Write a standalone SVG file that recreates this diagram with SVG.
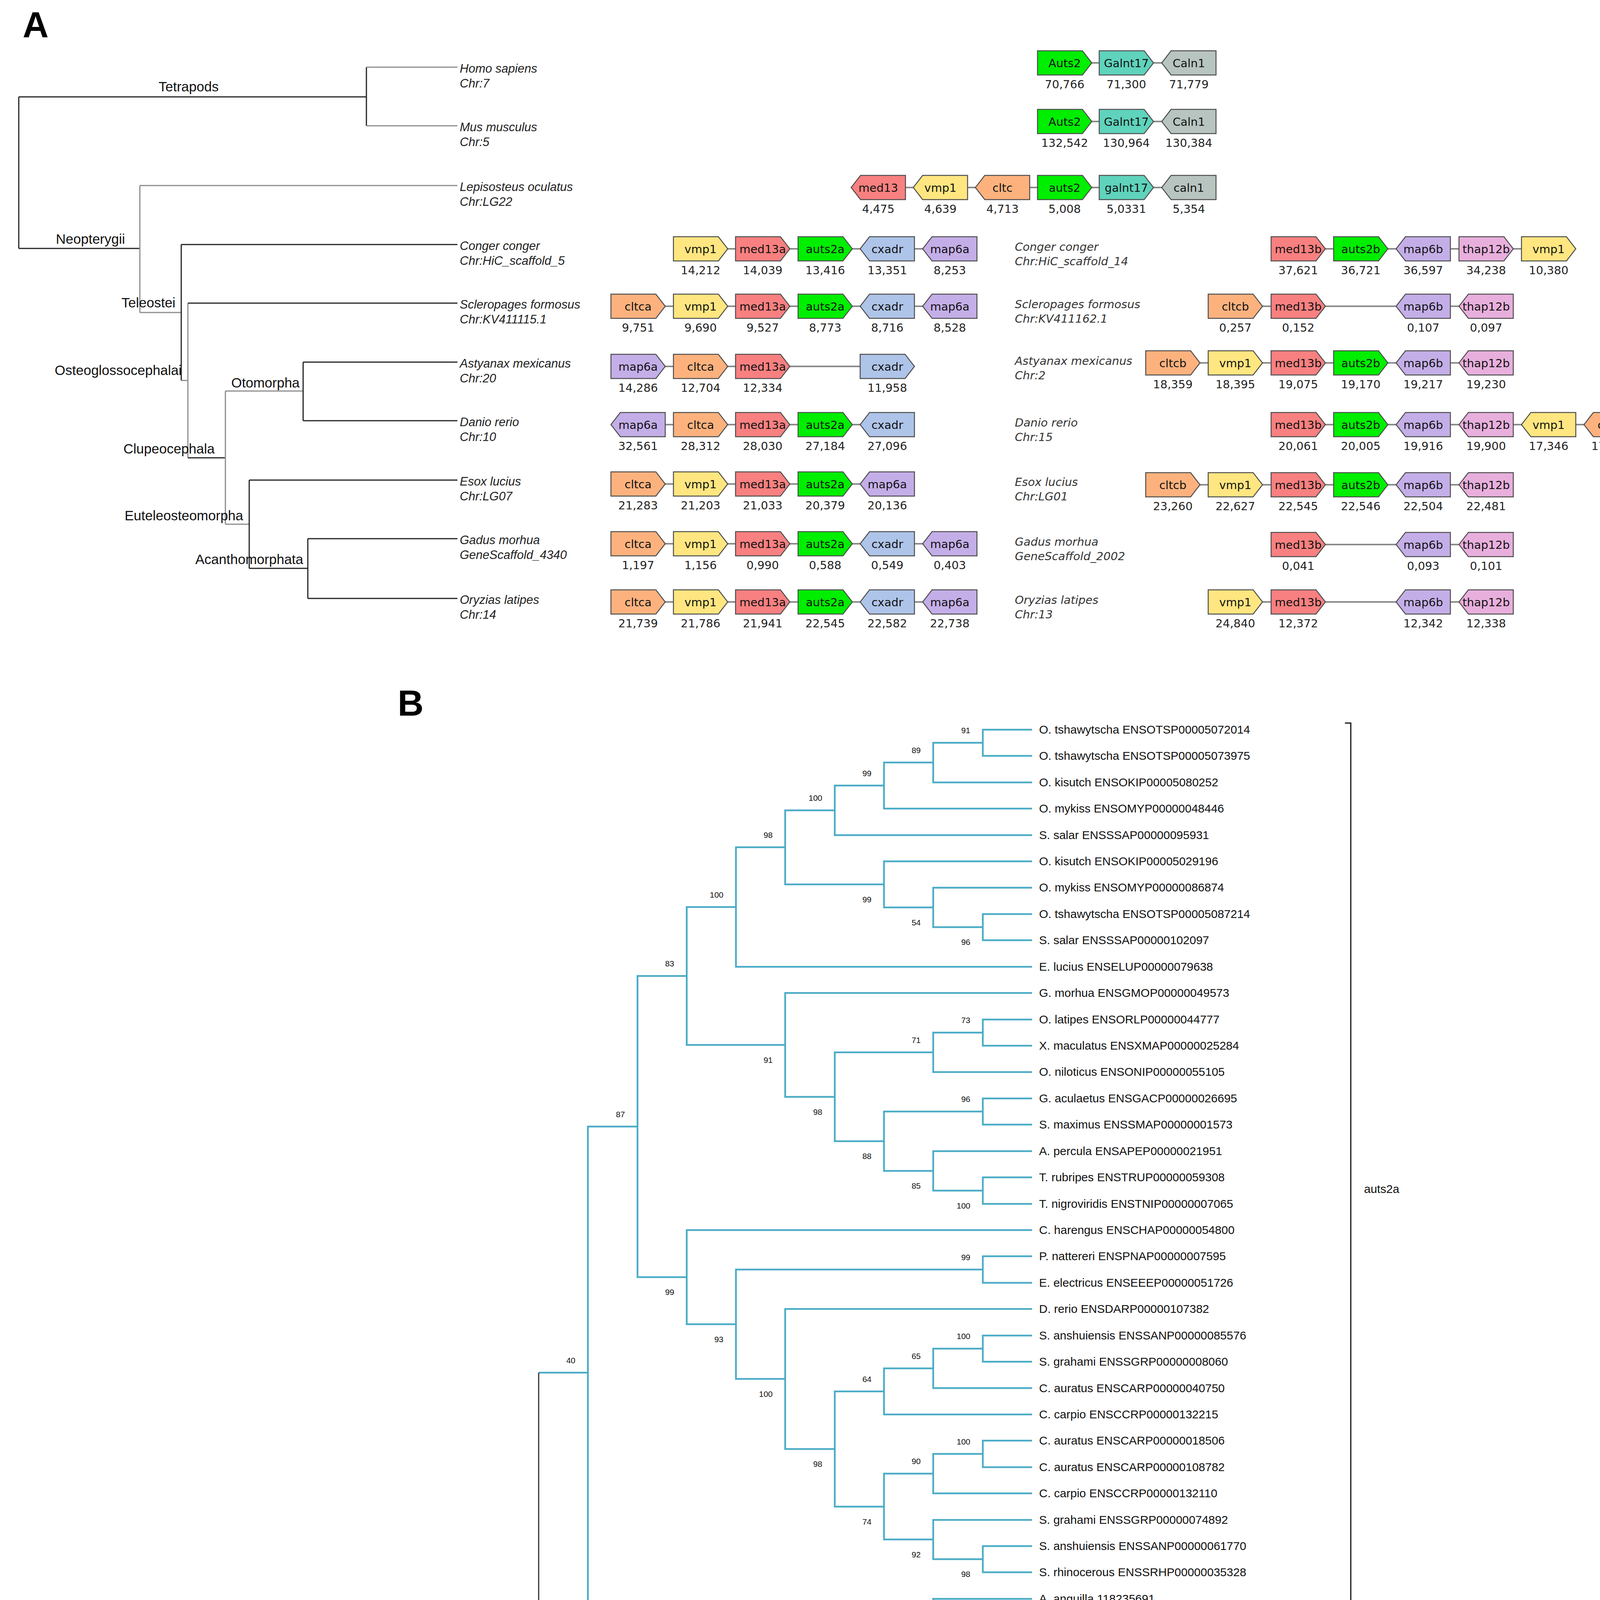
<svg xmlns="http://www.w3.org/2000/svg" width="4220" height="5957" viewBox="0 0 4220 5957">
<style>
.tk{stroke:#222;stroke-width:3;fill:none}
.tg{stroke:#8c8c8c;stroke-width:3;fill:none}
.cl{font-family:"Liberation Sans",Arial,sans-serif;font-size:35px;fill:#111}
.sp{font-family:"Liberation Sans",Arial,sans-serif;font-size:31px;font-style:italic;fill:#222}
.sp2{font-family:"DejaVu Sans",sans-serif;font-size:29px;font-style:italic;fill:#333}
.gn{font-family:"DejaVu Sans",sans-serif;font-size:29px;text-anchor:middle;fill:#111}
.num{font-family:"DejaVu Sans",sans-serif;font-size:29px;text-anchor:middle;fill:#222}
.lnk{stroke:#8a8a8a;stroke-width:4}
.box{stroke:#4d4d4d;stroke-width:2.5}
.gA{fill:#00ee00}.gG{fill:#5fd3bc}.gC{fill:#b7c4c0}.gM{fill:#f88080}.gV{fill:#ffe680}
.gL{fill:#fdb27e}.gX{fill:#aec4e8}.gP{fill:#c4aee8}.gT{fill:#e8afdd}
.bl{stroke:#4bacc6;stroke-width:4.5;fill:none}
.or{stroke:#f79646;stroke-width:4.5;fill:none}
.dk{stroke:#333;stroke-width:3;fill:none}
.leaf{font-family:"Liberation Sans",Arial,sans-serif;font-size:30px;fill:#111}
.bs{font-family:"Liberation Sans",Arial,sans-serif;font-size:21px;text-anchor:end;fill:#111}
.panel{font-family:"Liberation Sans",Arial,sans-serif;font-size:92px;font-weight:bold;fill:#000}
.grp{font-family:"Liberation Sans",Arial,sans-serif;font-size:30px;fill:#111}
.brk{stroke:#111;stroke-width:3;fill:none}
</style>
<defs>
<path id="R" d="M0,0H115L139,31L115,62H0Z"/>
<path id="L" d="M24,0H139V62H24L0,31Z"/>
</defs>
<rect width="4220" height="5957" fill="#fff"/>

<text class="panel" x="58" y="95">A</text>
<text class="panel" x="1018" y="1832">B</text>

<!-- Panel A species tree -->
<g id="treeA-branches">
<path class="tk" d="M48 248V636M48 248H938M938 172V322M48 636H358"/>
<path class="tg" d="M938 172H1171M938 322H1171"/>
<path class="tg" d="M358 475V800M358 475H1171M358 800H464"/>
<path class="tk" d="M464 626V974M464 626H1171"/>
<path class="tg" d="M464 974H481M481 776V1172"/>
<path class="tk" d="M481 776H1171M481 1172H577"/>
<path class="tg" d="M577 1001V1342M577 1001H776M577 1342H638"/>
<path class="tk" d="M776 927V1077M776 927H1171M776 1077H1171"/>
<path class="tk" d="M638 1229V1455M638 1229H1171M638 1455H788M788 1379V1532M788 1379H1171M788 1532H1171"/>
</g>
<g id="treeA-clades">
<text class="cl" x="406" y="234">Tetrapods</text>
<text class="cl" x="143" y="624">Neopterygii</text>
<text class="cl" x="311" y="787">Teleostei</text>
<text class="cl" x="140" y="960">Osteoglossocephalai</text>
<text class="cl" x="592" y="992">Otomorpha</text>
<text class="cl" x="316" y="1161">Clupeocephala</text>
<text class="cl" x="319" y="1332">Euteleosteomorpha</text>
<text class="cl" x="500" y="1444">Acanthomorphata</text>
</g>
<g id="treeA-species">
<text class="sp" x="1177" y="186">Homo sapiens</text><text class="sp" x="1177" y="224">Chr:7</text>
<text class="sp" x="1177" y="336">Mus musculus</text><text class="sp" x="1177" y="374">Chr:5</text>
<text class="sp" x="1177" y="489">Lepisosteus oculatus</text><text class="sp" x="1177" y="527">Chr:LG22</text>
<text class="sp" x="1177" y="640">Conger conger</text><text class="sp" x="1177" y="678">Chr:HiC_scaffold_5</text>
<text class="sp" x="1177" y="790">Scleropages formosus</text><text class="sp" x="1177" y="828">Chr:KV411115.1</text>
<text class="sp" x="1177" y="941">Astyanax mexicanus</text><text class="sp" x="1177" y="979">Chr:20</text>
<text class="sp" x="1177" y="1091">Danio rerio</text><text class="sp" x="1177" y="1129">Chr:10</text>
<text class="sp" x="1177" y="1243">Esox lucius</text><text class="sp" x="1177" y="1281">Chr:LG07</text>
<text class="sp" x="1177" y="1393">Gadus morhua</text><text class="sp" x="1177" y="1431">GeneScaffold_4340</text>
<text class="sp" x="1177" y="1546">Oryzias latipes</text><text class="sp" x="1177" y="1584">Chr:14</text>
</g>
<g id="synteny-labels">
<text class="sp2" x="2598" y="642">Conger conger</text><text class="sp2" x="2598" y="679">Chr:HiC_scaffold_14</text>
<text class="sp2" x="2598" y="789">Scleropages formosus</text><text class="sp2" x="2598" y="826">Chr:KV411162.1</text>
<text class="sp2" x="2598" y="934">Astyanax mexicanus</text><text class="sp2" x="2598" y="971">Chr:2</text>
<text class="sp2" x="2598" y="1092">Danio rerio</text><text class="sp2" x="2598" y="1129">Chr:15</text>
<text class="sp2" x="2598" y="1244">Esox lucius</text><text class="sp2" x="2598" y="1281">Chr:LG01</text>
<text class="sp2" x="2598" y="1397">Gadus morhua</text><text class="sp2" x="2598" y="1434">GeneScaffold_2002</text>
<text class="sp2" x="2598" y="1546">Oryzias latipes</text><text class="sp2" x="2598" y="1583">Chr:13</text>
</g>

<!-- gene rows: connectors -->
<g id="gene-links">
<path class="lnk" d="M2656 161H3113M2656 311H3113M2179 480H3113M1724 637H2501M3254 637H4034M1564 784H2501M3093 784H3874M1564 938H2341M2933 929H3874M1564 1087H2341M3254 1087H4194M1564 1239H2341M2933 1241H3874M1564 1392H2501M3254 1394H3874M1564 1541H2501M3093 1541H3874"/>
</g>

<!-- Human -->
<g id="row-human">
<g id="hs-auts2" transform="translate(2656,130)"><use href="#R" class="box gA"/><text class="gn" x="69.5" y="42">Auts2</text><text class="num" x="69.5" y="96">70,766</text></g>
<g id="hs-galnt17" transform="translate(2814,130)"><use href="#R" class="box gG"/><text class="gn" x="69.5" y="42">Galnt17</text><text class="num" x="69.5" y="96">71,300</text></g>
<g id="hs-caln1" transform="translate(2974,130)"><use href="#L" class="box gC"/><text class="gn" x="69.5" y="42">Caln1</text><text class="num" x="69.5" y="96">71,779</text></g>
</g>
<g id="row-mouse">
<g id="mm-auts2" transform="translate(2656,280)"><use href="#R" class="box gA"/><text class="gn" x="69.5" y="42">Auts2</text><text class="num" x="69.5" y="96">132,542</text></g>
<g id="mm-galnt17" transform="translate(2814,280)"><use href="#R" class="box gG"/><text class="gn" x="69.5" y="42">Galnt17</text><text class="num" x="69.5" y="96">130,964</text></g>
<g id="mm-caln1" transform="translate(2974,280)"><use href="#L" class="box gC"/><text class="gn" x="69.5" y="42">Caln1</text><text class="num" x="69.5" y="96">130,384</text></g>
</g>
<g id="row-lepisosteus">
<g id="lo-med13" transform="translate(2179,449)"><use href="#L" class="box gM"/><text class="gn" x="69.5" y="42">med13</text><text class="num" x="69.5" y="96">4,475</text></g>
<g id="lo-vmp1" transform="translate(2338,449)"><use href="#L" class="box gV"/><text class="gn" x="69.5" y="42">vmp1</text><text class="num" x="69.5" y="96">4,639</text></g>
<g id="lo-cltc" transform="translate(2497,449)"><use href="#L" class="box gL"/><text class="gn" x="69.5" y="42">cltc</text><text class="num" x="69.5" y="96">4,713</text></g>
<g id="lo-auts2" transform="translate(2656,449)"><use href="#R" class="box gA"/><text class="gn" x="69.5" y="42">auts2</text><text class="num" x="69.5" y="96">5,008</text></g>
<g id="lo-galnt17" transform="translate(2814,449)"><use href="#R" class="box gG"/><text class="gn" x="69.5" y="42">galnt17</text><text class="num" x="69.5" y="96">5,0331</text></g>
<g id="lo-caln1" transform="translate(2974,449)"><use href="#L" class="box gC"/><text class="gn" x="69.5" y="42">caln1</text><text class="num" x="69.5" y="96">5,354</text></g>
</g>
<g id="row-conger">
<g id="cc-vmp1" transform="translate(1724,606)"><use href="#R" class="box gV"/><text class="gn" x="69.5" y="42">vmp1</text><text class="num" x="69.5" y="96">14,212</text></g>
<g id="cc-med13a" transform="translate(1883,606)"><use href="#R" class="box gM"/><text class="gn" x="69.5" y="42">med13a</text><text class="num" x="69.5" y="96">14,039</text></g>
<g id="cc-auts2a" transform="translate(2043,606)"><use href="#R" class="box gA"/><text class="gn" x="69.5" y="42">auts2a</text><text class="num" x="69.5" y="96">13,416</text></g>
<g id="cc-cxadr" transform="translate(2202,606)"><use href="#L" class="box gX"/><text class="gn" x="69.5" y="42">cxadr</text><text class="num" x="69.5" y="96">13,351</text></g>
<g id="cc-map6a" transform="translate(2362,606)"><use href="#L" class="box gP"/><text class="gn" x="69.5" y="42">map6a</text><text class="num" x="69.5" y="96">8,253</text></g>
<g id="cc-med13b" transform="translate(3254,606)"><use href="#R" class="box gM"/><text class="gn" x="69.5" y="42">med13b</text><text class="num" x="69.5" y="96">37,621</text></g>
<g id="cc-auts2b" transform="translate(3414,606)"><use href="#R" class="box gA"/><text class="gn" x="69.5" y="42">auts2b</text><text class="num" x="69.5" y="96">36,721</text></g>
<g id="cc-map6b" transform="translate(3574,606)"><use href="#L" class="box gP"/><text class="gn" x="69.5" y="42">map6b</text><text class="num" x="69.5" y="96">36,597</text></g>
<g id="cc-thap12b" transform="translate(3735,606)"><use href="#R" class="box gT"/><text class="gn" x="69.5" y="42">thap12b</text><text class="num" x="69.5" y="96">34,238</text></g>
<g id="cc-vmp1b" transform="translate(3895,606)"><use href="#R" class="box gV"/><text class="gn" x="69.5" y="42">vmp1</text><text class="num" x="69.5" y="96">10,380</text></g>
</g>
<g id="row-scleropages">
<g id="sf-cltca" transform="translate(1564,753)"><use href="#R" class="box gL"/><text class="gn" x="69.5" y="42">cltca</text><text class="num" x="69.5" y="96">9,751</text></g>
<g id="sf-vmp1" transform="translate(1724,753)"><use href="#R" class="box gV"/><text class="gn" x="69.5" y="42">vmp1</text><text class="num" x="69.5" y="96">9,690</text></g>
<g id="sf-med13a" transform="translate(1883,753)"><use href="#R" class="box gM"/><text class="gn" x="69.5" y="42">med13a</text><text class="num" x="69.5" y="96">9,527</text></g>
<g id="sf-auts2a" transform="translate(2043,753)"><use href="#R" class="box gA"/><text class="gn" x="69.5" y="42">auts2a</text><text class="num" x="69.5" y="96">8,773</text></g>
<g id="sf-cxadr" transform="translate(2202,753)"><use href="#L" class="box gX"/><text class="gn" x="69.5" y="42">cxadr</text><text class="num" x="69.5" y="96">8,716</text></g>
<g id="sf-map6a" transform="translate(2362,753)"><use href="#L" class="box gP"/><text class="gn" x="69.5" y="42">map6a</text><text class="num" x="69.5" y="96">8,528</text></g>
<g id="sf-cltcb" transform="translate(3093,753)"><use href="#R" class="box gL"/><text class="gn" x="69.5" y="42">cltcb</text><text class="num" x="69.5" y="96">0,257</text></g>
<g id="sf-med13b" transform="translate(3254,753)"><use href="#R" class="box gM"/><text class="gn" x="69.5" y="42">med13b</text><text class="num" x="69.5" y="96">0,152</text></g>
<g id="sf-map6b" transform="translate(3574,753)"><use href="#L" class="box gP"/><text class="gn" x="69.5" y="42">map6b</text><text class="num" x="69.5" y="96">0,107</text></g>
<g id="sf-thap12b" transform="translate(3735,753)"><use href="#L" class="box gT"/><text class="gn" x="69.5" y="42">thap12b</text><text class="num" x="69.5" y="96">0,097</text></g>
</g>
<g id="row-astyanax">
<g id="am-map6a" transform="translate(1564,907)"><use href="#R" class="box gP"/><text class="gn" x="69.5" y="42">map6a</text><text class="num" x="69.5" y="96">14,286</text></g>
<g id="am-cltca" transform="translate(1724,907)"><use href="#R" class="box gL"/><text class="gn" x="69.5" y="42">cltca</text><text class="num" x="69.5" y="96">12,704</text></g>
<g id="am-med13a" transform="translate(1883,907)"><use href="#R" class="box gM"/><text class="gn" x="69.5" y="42">med13a</text><text class="num" x="69.5" y="96">12,334</text></g>
<g id="am-cxadr" transform="translate(2202,907)"><use href="#R" class="box gX"/><text class="gn" x="69.5" y="42">cxadr</text><text class="num" x="69.5" y="96">11,958</text></g>
<g id="am-cltcb" transform="translate(2933,898)"><use href="#R" class="box gL"/><text class="gn" x="69.5" y="42">cltcb</text><text class="num" x="69.5" y="96">18,359</text></g>
<g id="am-vmp1" transform="translate(3093,898)"><use href="#R" class="box gV"/><text class="gn" x="69.5" y="42">vmp1</text><text class="num" x="69.5" y="96">18,395</text></g>
<g id="am-med13b" transform="translate(3254,898)"><use href="#R" class="box gM"/><text class="gn" x="69.5" y="42">med13b</text><text class="num" x="69.5" y="96">19,075</text></g>
<g id="am-auts2b" transform="translate(3414,898)"><use href="#R" class="box gA"/><text class="gn" x="69.5" y="42">auts2b</text><text class="num" x="69.5" y="96">19,170</text></g>
<g id="am-map6b" transform="translate(3574,898)"><use href="#L" class="box gP"/><text class="gn" x="69.5" y="42">map6b</text><text class="num" x="69.5" y="96">19,217</text></g>
<g id="am-thap12b" transform="translate(3735,898)"><use href="#L" class="box gT"/><text class="gn" x="69.5" y="42">thap12b</text><text class="num" x="69.5" y="96">19,230</text></g>
</g>
<g id="row-danio">
<g id="dr-map6a" transform="translate(1564,1056)"><use href="#L" class="box gP"/><text class="gn" x="69.5" y="42">map6a</text><text class="num" x="69.5" y="96">32,561</text></g>
<g id="dr-cltca" transform="translate(1724,1056)"><use href="#R" class="box gL"/><text class="gn" x="69.5" y="42">cltca</text><text class="num" x="69.5" y="96">28,312</text></g>
<g id="dr-med13a" transform="translate(1883,1056)"><use href="#R" class="box gM"/><text class="gn" x="69.5" y="42">med13a</text><text class="num" x="69.5" y="96">28,030</text></g>
<g id="dr-auts2a" transform="translate(2043,1056)"><use href="#R" class="box gA"/><text class="gn" x="69.5" y="42">auts2a</text><text class="num" x="69.5" y="96">27,184</text></g>
<g id="dr-cxadr" transform="translate(2202,1056)"><use href="#L" class="box gX"/><text class="gn" x="69.5" y="42">cxadr</text><text class="num" x="69.5" y="96">27,096</text></g>
<g id="dr-med13b" transform="translate(3254,1056)"><use href="#R" class="box gM"/><text class="gn" x="69.5" y="42">med13b</text><text class="num" x="69.5" y="96">20,061</text></g>
<g id="dr-auts2b" transform="translate(3414,1056)"><use href="#R" class="box gA"/><text class="gn" x="69.5" y="42">auts2b</text><text class="num" x="69.5" y="96">20,005</text></g>
<g id="dr-map6b" transform="translate(3574,1056)"><use href="#L" class="box gP"/><text class="gn" x="69.5" y="42">map6b</text><text class="num" x="69.5" y="96">19,916</text></g>
<g id="dr-thap12b" transform="translate(3735,1056)"><use href="#L" class="box gT"/><text class="gn" x="69.5" y="42">thap12b</text><text class="num" x="69.5" y="96">19,900</text></g>
<g id="dr-vmp1" transform="translate(3895,1056)"><use href="#L" class="box gV"/><text class="gn" x="69.5" y="42">vmp1</text><text class="num" x="69.5" y="96">17,346</text></g>
<g id="dr-cltcb" transform="translate(4055,1056)"><use href="#L" class="box gL"/><text class="gn" x="69.5" y="42">cltcb</text><text class="num" x="69.5" y="96">17,286</text></g>
</g>
<g id="row-esox">
<g id="el-cltca" transform="translate(1564,1208)"><use href="#R" class="box gL"/><text class="gn" x="69.5" y="42">cltca</text><text class="num" x="69.5" y="96">21,283</text></g>
<g id="el-vmp1" transform="translate(1724,1208)"><use href="#R" class="box gV"/><text class="gn" x="69.5" y="42">vmp1</text><text class="num" x="69.5" y="96">21,203</text></g>
<g id="el-med13a" transform="translate(1883,1208)"><use href="#R" class="box gM"/><text class="gn" x="69.5" y="42">med13a</text><text class="num" x="69.5" y="96">21,033</text></g>
<g id="el-auts2a" transform="translate(2043,1208)"><use href="#R" class="box gA"/><text class="gn" x="69.5" y="42">auts2a</text><text class="num" x="69.5" y="96">20,379</text></g>
<g id="el-map6a" transform="translate(2202,1208)"><use href="#L" class="box gP"/><text class="gn" x="69.5" y="42">map6a</text><text class="num" x="69.5" y="96">20,136</text></g>
<g id="el-cltcb" transform="translate(2933,1210)"><use href="#R" class="box gL"/><text class="gn" x="69.5" y="42">cltcb</text><text class="num" x="69.5" y="96">23,260</text></g>
<g id="el-vmp1b" transform="translate(3093,1210)"><use href="#R" class="box gV"/><text class="gn" x="69.5" y="42">vmp1</text><text class="num" x="69.5" y="96">22,627</text></g>
<g id="el-med13b" transform="translate(3254,1210)"><use href="#R" class="box gM"/><text class="gn" x="69.5" y="42">med13b</text><text class="num" x="69.5" y="96">22,545</text></g>
<g id="el-auts2b" transform="translate(3414,1210)"><use href="#R" class="box gA"/><text class="gn" x="69.5" y="42">auts2b</text><text class="num" x="69.5" y="96">22,546</text></g>
<g id="el-map6b" transform="translate(3574,1210)"><use href="#L" class="box gP"/><text class="gn" x="69.5" y="42">map6b</text><text class="num" x="69.5" y="96">22,504</text></g>
<g id="el-thap12b" transform="translate(3735,1210)"><use href="#L" class="box gT"/><text class="gn" x="69.5" y="42">thap12b</text><text class="num" x="69.5" y="96">22,481</text></g>
</g>
<g id="row-gadus">
<g id="gm-cltca" transform="translate(1564,1361)"><use href="#R" class="box gL"/><text class="gn" x="69.5" y="42">cltca</text><text class="num" x="69.5" y="96">1,197</text></g>
<g id="gm-vmp1" transform="translate(1724,1361)"><use href="#R" class="box gV"/><text class="gn" x="69.5" y="42">vmp1</text><text class="num" x="69.5" y="96">1,156</text></g>
<g id="gm-med13a" transform="translate(1883,1361)"><use href="#R" class="box gM"/><text class="gn" x="69.5" y="42">med13a</text><text class="num" x="69.5" y="96">0,990</text></g>
<g id="gm-auts2a" transform="translate(2043,1361)"><use href="#R" class="box gA"/><text class="gn" x="69.5" y="42">auts2a</text><text class="num" x="69.5" y="96">0,588</text></g>
<g id="gm-cxadr" transform="translate(2202,1361)"><use href="#L" class="box gX"/><text class="gn" x="69.5" y="42">cxadr</text><text class="num" x="69.5" y="96">0,549</text></g>
<g id="gm-map6a" transform="translate(2362,1361)"><use href="#L" class="box gP"/><text class="gn" x="69.5" y="42">map6a</text><text class="num" x="69.5" y="96">0,403</text></g>
<g id="gm-med13b" transform="translate(3254,1363)"><use href="#R" class="box gM"/><text class="gn" x="69.5" y="42">med13b</text><text class="num" x="69.5" y="96">0,041</text></g>
<g id="gm-map6b" transform="translate(3574,1363)"><use href="#L" class="box gP"/><text class="gn" x="69.5" y="42">map6b</text><text class="num" x="69.5" y="96">0,093</text></g>
<g id="gm-thap12b" transform="translate(3735,1363)"><use href="#L" class="box gT"/><text class="gn" x="69.5" y="42">thap12b</text><text class="num" x="69.5" y="96">0,101</text></g>
</g>
<g id="row-oryzias">
<g id="ol-cltca" transform="translate(1564,1510)"><use href="#R" class="box gL"/><text class="gn" x="69.5" y="42">cltca</text><text class="num" x="69.5" y="96">21,739</text></g>
<g id="ol-vmp1" transform="translate(1724,1510)"><use href="#R" class="box gV"/><text class="gn" x="69.5" y="42">vmp1</text><text class="num" x="69.5" y="96">21,786</text></g>
<g id="ol-med13a" transform="translate(1883,1510)"><use href="#R" class="box gM"/><text class="gn" x="69.5" y="42">med13a</text><text class="num" x="69.5" y="96">21,941</text></g>
<g id="ol-auts2a" transform="translate(2043,1510)"><use href="#R" class="box gA"/><text class="gn" x="69.5" y="42">auts2a</text><text class="num" x="69.5" y="96">22,545</text></g>
<g id="ol-cxadr" transform="translate(2202,1510)"><use href="#L" class="box gX"/><text class="gn" x="69.5" y="42">cxadr</text><text class="num" x="69.5" y="96">22,582</text></g>
<g id="ol-map6a" transform="translate(2362,1510)"><use href="#L" class="box gP"/><text class="gn" x="69.5" y="42">map6a</text><text class="num" x="69.5" y="96">22,738</text></g>
<g id="ol-vmp1b" transform="translate(3093,1510)"><use href="#R" class="box gV"/><text class="gn" x="69.5" y="42">vmp1</text><text class="num" x="69.5" y="96">24,840</text></g>
<g id="ol-med13b" transform="translate(3254,1510)"><use href="#R" class="box gM"/><text class="gn" x="69.5" y="42">med13b</text><text class="num" x="69.5" y="96">12,372</text></g>
<g id="ol-map6b" transform="translate(3574,1510)"><use href="#L" class="box gP"/><text class="gn" x="69.5" y="42">map6b</text><text class="num" x="69.5" y="96">12,342</text></g>
<g id="ol-thap12b" transform="translate(3735,1510)"><use href="#L" class="box gT"/><text class="gn" x="69.5" y="42">thap12b</text><text class="num" x="69.5" y="96">12,338</text></g>
</g>

<!-- Panel B gene tree -->
<g id="treeB-branches">
<path class="bl" d="M2642 1868H2516V1935H2642M2516 1901.5H2389V2003H2642M2389 1952H2263V2070H2642M2263 2011H2137V2138H2642M2642 2340H2516V2407H2642M2642 2272.5H2389V2373.5H2516M2642 2205H2263V2323H2389M2137 2074.5H2010V2264H2263M2010 2169H1884V2475H2642M2642 2610H2516V2677H2642M2516 2643.5H2389V2744.5H2642M2642 2812H2516V2879H2642M2642 3014H2516V3082H2642M2642 2947H2389V3048H2516M2516 2845.5H2263V2997.5H2389M2389 2694H2137V2921.5H2263M2642 2542H2010V2808H2137M1884 2322H1758V2675H2010M2642 3216H2516V3284H2642M2642 3419H2516V3486H2642M2516 3452.5H2389V3553.5H2642M2389 3503H2263V3621H2642M2642 3688H2516V3756H2642M2516 3722H2389V3823H2642M2642 3958H2516V4025H2642M2642 3891H2389V3991.5H2516M2389 3772.5H2263V3941H2389M2263 3562H2137V3857H2263M2642 3351H2010V3709.5H2137M2516 3250H1884V3530H2010M2642 3149H1758V3390H1884M1758 2498.5H1632V3269.5H1758M2642 4160H2516V4228H2642M2642 4093H2389V4194H2516M1632 2884H1505V4143.5H2389M1505 3514H1379"/>
<path class="or" d="M2642 4295H2516V4362.5H2642M2516 4329H2389V4430H2642M2389 4379.5H2263V4497H2642M2263 4438H2137V4565H2642M2642 4632H2516V4700H2642M2516 4666H2389V4767H2642M2642 4834.5H2516V4902H2642M2389 4716.5H2263V4868H2516M2263 4792H2137V4969H2642M2642 5104H2516V5172H2642M2516 5138H2389V5239H2642M2642 5306H2516V5374H2642M2389 5188.5H2263V5340H2516M2642 5441H2516V5509H2642M2642 5643.5H2516V5711H2642M2642 5576H2389V5677H2516M2516 5475H2263V5626.5H2389M2263 5264H2137V5551H2263M2642 5037H2010V5407.5H2137M2137 4880.5H1884V5222H2010M2137 4501.5H1758V5051H1884M1758 4776H1379"/>
<path class="dk" d="M1379 3514V4776M1379 4145H1253V5778M1253 4961.5H1126V5879.5H2516M2642 5846H2516V5913H2642"/>
<path class="tg" d="M1253 5778H2642"/>
</g>
<g id="treeB-support">
<text class="bs" x="2484" y="1877">91</text>
<text class="bs" x="2357" y="1928">89</text>
<text class="bs" x="2231" y="1987">99</text>
<text class="bs" x="2105" y="2050">100</text>
<text class="bs" x="1978" y="2145">98</text>
<text class="bs" x="1852" y="2298">100</text>
<text class="bs" x="2484" y="2419">96</text>
<text class="bs" x="2357" y="2369">54</text>
<text class="bs" x="2231" y="2310">99</text>
<text class="bs" x="1726" y="2474">83</text>
<text class="bs" x="2484" y="2619">73</text>
<text class="bs" x="2357" y="2670">71</text>
<text class="bs" x="1978" y="2721">91</text>
<text class="bs" x="2484" y="2821">96</text>
<text class="bs" x="2105" y="2854">98</text>
<text class="bs" x="2231" y="2967">88</text>
<text class="bs" x="2357" y="3043">85</text>
<text class="bs" x="2484" y="3094">100</text>
<text class="bs" x="1600" y="2860">87</text>
<text class="bs" x="2484" y="3226">99</text>
<text class="bs" x="1726" y="3315">99</text>
<text class="bs" x="1852" y="3436">93</text>
<text class="bs" x="2484" y="3428">100</text>
<text class="bs" x="2357" y="3479">65</text>
<text class="bs" x="2231" y="3538">64</text>
<text class="bs" x="1978" y="3576">100</text>
<text class="bs" x="2105" y="3755">98</text>
<text class="bs" x="2484" y="3698">100</text>
<text class="bs" x="2357" y="3748">90</text>
<text class="bs" x="2231" y="3903">74</text>
<text class="bs" x="2357" y="3987">92</text>
<text class="bs" x="2484" y="4037">98</text>
<text class="bs" x="1473" y="3490">40</text>
<text class="bs" x="2357" y="4189">47</text>
<text class="bs" x="2484" y="4240">93</text>
<text class="bs" x="1347" y="4121">98</text>
<text class="bs" x="2484" y="4305">70</text>
<text class="bs" x="2357" y="4355">78</text>
<text class="bs" x="2231" y="4414">99</text>
<text class="bs" x="2105" y="4477">100</text>
<text class="bs" x="2484" y="4642">100</text>
<text class="bs" x="2357" y="4692">76</text>
<text class="bs" x="2231" y="4768">91</text>
<text class="bs" x="2484" y="4914">100</text>
<text class="bs" x="2105" y="4856">100</text>
<text class="bs" x="1726" y="4822">100</text>
<text class="bs" x="1852" y="5097">100</text>
<text class="bs" x="2484" y="5114">63</text>
<text class="bs" x="2357" y="5164">100</text>
<text class="bs" x="2231" y="5240">100</text>
<text class="bs" x="2484" y="5386">100</text>
<text class="bs" x="1978" y="5268">100</text>
<text class="bs" x="2105" y="5453">99</text>
<text class="bs" x="2484" y="5451">99</text>
<text class="bs" x="2231" y="5597">100</text>
<text class="bs" x="2357" y="5672">99</text>
<text class="bs" x="2484" y="5723">51</text>
<text class="bs" x="2484" y="5925">100</text>
</g>
<g id="treeB-leaves-auts2a">
<text class="leaf" x="2660" y="1878">O. tshawytscha ENSOTSP00005072014</text>
<text class="leaf" x="2660" y="1945">O. tshawytscha ENSOTSP00005073975</text>
<text class="leaf" x="2660" y="2013">O. kisutch ENSOKIP00005080252</text>
<text class="leaf" x="2660" y="2080">O. mykiss ENSOMYP00000048446</text>
<text class="leaf" x="2660" y="2148">S. salar ENSSSAP00000095931</text>
<text class="leaf" x="2660" y="2215">O. kisutch ENSOKIP00005029196</text>
<text class="leaf" x="2660" y="2282">O. mykiss ENSOMYP00000086874</text>
<text class="leaf" x="2660" y="2350">O. tshawytscha ENSOTSP00005087214</text>
<text class="leaf" x="2660" y="2417">S. salar ENSSSAP00000102097</text>
<text class="leaf" x="2660" y="2485">E. lucius ENSELUP00000079638</text>
<text class="leaf" x="2660" y="2552">G. morhua ENSGMOP00000049573</text>
<text class="leaf" x="2660" y="2620">O. latipes ENSORLP00000044777</text>
<text class="leaf" x="2660" y="2687">X. maculatus ENSXMAP00000025284</text>
<text class="leaf" x="2660" y="2754">O. niloticus ENSONIP00000055105</text>
<text class="leaf" x="2660" y="2822">G. aculaetus ENSGACP00000026695</text>
<text class="leaf" x="2660" y="2889">S. maximus ENSSMAP00000001573</text>
<text class="leaf" x="2660" y="2957">A. percula ENSAPEP00000021951</text>
<text class="leaf" x="2660" y="3024">T. rubripes ENSTRUP00000059308</text>
<text class="leaf" x="2660" y="3092">T. nigroviridis ENSTNIP00000007065</text>
<text class="leaf" x="2660" y="3159">C. harengus ENSCHAP00000054800</text>
<text class="leaf" x="2660" y="3226">P. nattereri ENSPNAP00000007595</text>
<text class="leaf" x="2660" y="3294">E. electricus ENSEEEP00000051726</text>
<text class="leaf" x="2660" y="3361">D. rerio ENSDARP00000107382</text>
<text class="leaf" x="2660" y="3429">S. anshuiensis ENSSANP00000085576</text>
<text class="leaf" x="2660" y="3496">S. grahami ENSSGRP00000008060</text>
<text class="leaf" x="2660" y="3564">C. auratus ENSCARP00000040750</text>
<text class="leaf" x="2660" y="3631">C. carpio ENSCCRP00000132215</text>
<text class="leaf" x="2660" y="3698">C. auratus ENSCARP00000018506</text>
<text class="leaf" x="2660" y="3766">C. auratus ENSCARP00000108782</text>
<text class="leaf" x="2660" y="3833">C. carpio ENSCCRP00000132110</text>
<text class="leaf" x="2660" y="3901">S. grahami ENSSGRP00000074892</text>
<text class="leaf" x="2660" y="3968">S. anshuiensis ENSSANP00000061770</text>
<text class="leaf" x="2660" y="4035">S. rhinocerous ENSSRHP00000035328</text>
<text class="leaf" x="2660" y="4103">A. anguilla 118235691</text>
<text class="leaf" x="2660" y="4170">P. kingsleyae ENSPKIP00000002528</text>
<text class="leaf" x="2660" y="4238">S. formosus ENSSFOP00015022063</text>
</g>
<g id="treeB-leaves-auts2b">
<text class="leaf" x="2660" y="4305">O. mykiss ENSOMYP00000065256</text>
<text class="leaf" x="2660" y="4373">O. tshawytscha ENSOTSP00005027308</text>
<text class="leaf" x="2660" y="4440">O. kisutch ENSOKIP00005032595</text>
<text class="leaf" x="2660" y="4507">S.salar ENSSSAP00000028840</text>
<text class="leaf" x="2660" y="4575">E. lucius ENSELUP00000020246</text>
<text class="leaf" x="2660" y="4642">A. mexicanus ENSAMXP00000032179</text>
<text class="leaf" x="2660" y="4710">A. mexicanus pachon ENSAMXP00005022272</text>
<text class="leaf" x="2660" y="4777">P. nattereri ENSPNAP00000027766</text>
<text class="leaf" x="2660" y="4844">I. punctatus ENSIPUP00000021764</text>
<text class="leaf" x="2660" y="4912">P. hypophthalmus 113532752</text>
<text class="leaf" x="2660" y="4979">E. electricus ENSEEEP00000008190</text>
<text class="leaf" x="2660" y="5047">D. rerio ENSDARP00000131220</text>
<text class="leaf" x="2660" y="5114">S. anshuiensis ENSSANP00000014622</text>
<text class="leaf" x="2660" y="5182">S. rhinocerous ENSSRHP00000039230</text>
<text class="leaf" x="2660" y="5249">S. grahami ENSSGRP00000095155</text>
<text class="leaf" x="2660" y="5316">C. auratus ENSCARP00000034073</text>
<text class="leaf" x="2660" y="5384">C. carpio ENSCCRP00000128889</text>
<text class="leaf" x="2660" y="5451">C. auratus ENSCARP00000051265</text>
<text class="leaf" x="2660" y="5519">C. carpio ENSCCRP00000181080</text>
<text class="leaf" x="2660" y="5586">S. anshuiensis ENSSANP00000090446</text>
<text class="leaf" x="2660" y="5654">S. grahami ENSSGRP00000023427</text>
<text class="leaf" x="2660" y="5721">S. rhinocerous ENSSRHP00000016231</text>
</g>
<g id="treeB-leaves-outgroup">
<text class="leaf" x="2656" y="5788">L. oculatus ENSLOCP00000004749</text>
<text class="leaf" x="2656" y="5856">H. sapiens ENSP00000344087</text>
<text class="leaf" x="2656" y="5923">M. musculus ENSMUSP00000159436</text>
</g>
<g id="bracket-auts2a">
<path class="brk" d="M3443 1851H3458V4244H3443"/>
<text class="grp" x="3492" y="3054">auts2a</text>
</g>
<g id="bracket-auts2b">
<path class="brk" d="M3542 4275H3557V5731H3542"/>
<text class="grp" x="3592" y="5006">auts2b</text>
</g>
</svg>
